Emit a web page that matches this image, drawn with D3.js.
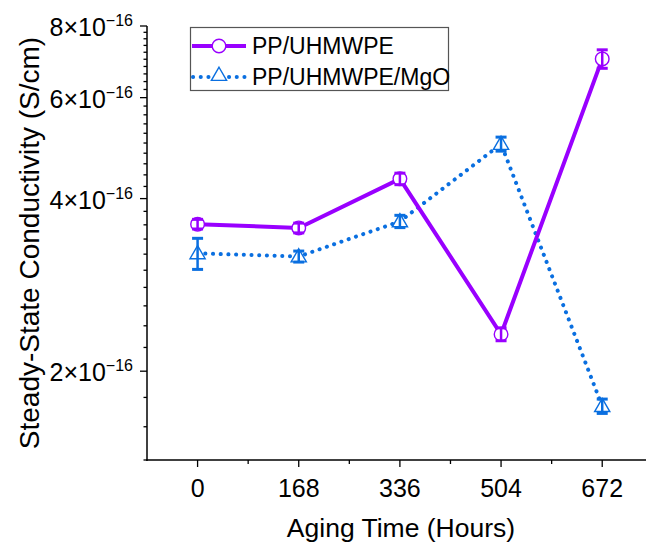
<!DOCTYPE html>
<html><head><meta charset="utf-8">
<script src="https://cdn.jsdelivr.net/npm/d3@7"></script>
<style>body{margin:0;background:#fff}svg{display:block}text{font-family:"Liberation Sans",Arial,sans-serif;fill:#000}</style>
</head><body><div id="c"></div>
<script>
const hours = [0, 168, 336, 504, 672];
const ppVals = [3.61e-16, 3.555e-16, 4.33e-16, 2.32e-16, 7.01e-16];
const ppErr  = [0.07e-16, 0.07e-16, 0.10e-16, 0.06e-16, 0.26e-16];
const mgoVals = [3.21e-16, 3.17e-16, 3.65e-16, 4.98e-16, 1.738e-16];
const mgoErr  = [0.20e-16, 0.07e-16, 0.09e-16, 0.14e-16, 0.05e-16];
const yMajor = [2e-16, 4e-16, 6e-16, 8e-16];
const yMajorLabels = ["2", "4", "6", "8"];
const xTickLabels = ["0", "168", "336", "504", "672"];
const seriesNames = ["PP/UHMWPE", "PP/UHMWPE/MgO"];

const W = 646, H = 546;
const svg = d3.select("#c").append("svg").attr("width", W).attr("height", H);
const x = d3.scaleLinear().domain([-84, 756]).range([147, 652.8]);
const y = d3.scaleLog().domain([1.4e-16, 8e-16]).range([460, 26]);
const purple = "#9900ff", blue = "#0a6fe0";

// y axis
const yMinor = d3.range(7, 41).map(k => k * 0.2e-16).filter(v => v <= 8.0001e-16);
const gy = svg.append("g");
gy.append("line").attr("x1", 147).attr("x2", 147).attr("y1", 26).attr("y2", 461).attr("stroke", "#000").attr("stroke-width", 1.5);
yMinor.forEach(v => {
  const k = Math.round(v / 0.2e-16);
  const major = k % 10 === 0;
  gy.append("line").attr("x1", 147).attr("x2", major ? 140 : 143.5)
    .attr("y1", y(v)).attr("y2", y(v)).attr("stroke", "#000").attr("stroke-width", 1.3);
});
yMajor.forEach((v, i) => {
  const t = gy.append("text").attr("x", 133).attr("y", y(v) + 10).attr("text-anchor", "end").attr("font-size", 25);
  t.append("tspan").text(yMajorLabels[i] + "×10");
  t.append("tspan").attr("dy", -10).attr("font-size", 16).text("−16");
});

// x axis
const gx = svg.append("g");
gx.append("line").attr("x1", 146.3).attr("x2", 660).attr("y1", 460).attr("y2", 460).attr("stroke", "#000").attr("stroke-width", 1.5);
hours.forEach((h, i) => {
  gx.append("line").attr("x1", x(h)).attr("x2", x(h)).attr("y1", 460).attr("y2", 467).attr("stroke", "#000").attr("stroke-width", 1.3);
  gx.append("text").attr("x", x(h)).attr("y", 497).attr("text-anchor", "middle").attr("font-size", 25).text(xTickLabels[i]);
});
[84, 252, 420, 588].forEach(h => {
  gx.append("line").attr("x1", x(h)).attr("x2", x(h)).attr("y1", 460).attr("y2", 464).attr("stroke", "#000").attr("stroke-width", 1.3);
});
svg.append("text").attr("x", 401).attr("y", 537).attr("text-anchor", "middle").attr("font-size", 26.5).text("Aging Time (Hours)");
svg.append("text").attr("transform", "translate(39,243) rotate(-90)").attr("text-anchor", "middle").attr("font-size", 28).text("Steady-State Conductivity (S/cm)");

// series
const line = d3.line().x(d => x(d[0])).y(d => y(d[1]));
const ppData = hours.map((h, i) => [h, ppVals[i], ppErr[i]]);
const mgoData = hours.map((h, i) => [h, mgoVals[i], mgoErr[i]]);

svg.append("path").datum(mgoData).attr("d", line).attr("fill", "none").attr("stroke", blue)
  .attr("stroke-width", 4).attr("stroke-linecap", "round").attr("stroke-dasharray", "0.1 7.6");
svg.append("path").datum(ppData).attr("d", line).attr("fill", "none").attr("stroke", purple).attr("stroke-width", 4);

const tri = d3.symbol().type(d3.symbolTriangle).size(100);
function errBars(data, color) {
  const g = svg.append("g").attr("stroke", color);
  data.forEach(d => {
    const cx = x(d[0]), y1 = y(d[1] + d[2]), y2 = y(d[1] - d[2]);
    g.append("line").attr("x1", cx).attr("x2", cx).attr("y1", y1).attr("y2", y2).attr("stroke-width", 2.5);
    g.append("line").attr("x1", cx - 5.5).attr("x2", cx + 5.5).attr("y1", y1).attr("y2", y1).attr("stroke-width", 3);
    g.append("line").attr("x1", cx - 5.5).attr("x2", cx + 5.5).attr("y1", y2).attr("y2", y2).attr("stroke-width", 3);
  });
}
mgoData.forEach(d => {
  svg.append("path").attr("d", tri).attr("transform", `translate(${x(d[0])},${y(d[1]) + 1})`)
    .attr("fill", "#fff").attr("stroke", blue).attr("stroke-width", 1.4);
});
errBars(mgoData, blue);
ppData.forEach(d => {
  svg.append("circle").attr("cx", x(d[0])).attr("cy", y(d[1])).attr("r", 6.8)
    .attr("fill", "#fff").attr("stroke", purple).attr("stroke-width", 1.4);
});
errBars(ppData, purple);

// legend
const lg = svg.append("g");
lg.append("rect").attr("x", 190.5).attr("y", 27.5).attr("width", 258).attr("height", 63).attr("fill", "#fff").attr("stroke", "#555").attr("stroke-width", 1.2);
lg.append("line").attr("x1", 192).attr("x2", 212).attr("y1", 46).attr("y2", 46).attr("stroke", purple).attr("stroke-width", 4);
lg.append("line").attr("x1", 226).attr("x2", 246).attr("y1", 46).attr("y2", 46).attr("stroke", purple).attr("stroke-width", 4);
lg.append("circle").attr("cx", 219).attr("cy", 46).attr("r", 6.8).attr("fill", "#fff").attr("stroke", purple).attr("stroke-width", 1.4);
lg.append("line").attr("x1", 193).attr("x2", 212).attr("y1", 77).attr("y2", 77).attr("stroke", blue).attr("stroke-width", 4).attr("stroke-linecap", "round").attr("stroke-dasharray", "0.1 7.6");
lg.append("line").attr("x1", 229).attr("x2", 248).attr("y1", 77).attr("y2", 77).attr("stroke", blue).attr("stroke-width", 4).attr("stroke-linecap", "round").attr("stroke-dasharray", "0.1 7.6");
lg.append("path").attr("d", tri).attr("transform", "translate(219,76)").attr("fill", "#fff").attr("stroke", blue).attr("stroke-width", 1.4);
lg.append("text").attr("x", 252).attr("y", 54).attr("font-size", 23).text(seriesNames[0]);
lg.append("text").attr("x", 252).attr("y", 85).attr("font-size", 23).text(seriesNames[1]);
</script></body></html>
